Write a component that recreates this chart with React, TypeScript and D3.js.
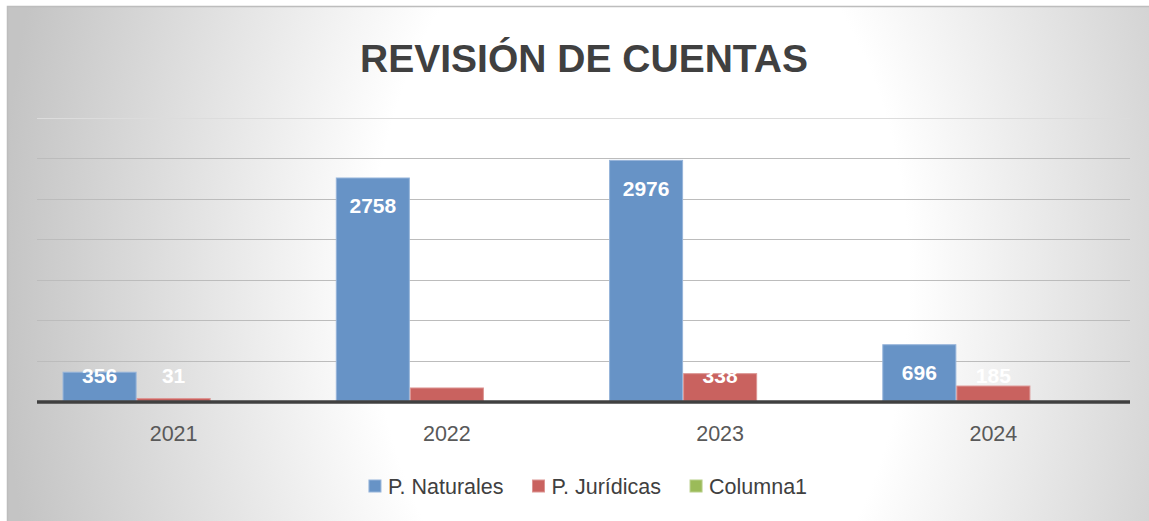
import React, { useRef, useEffect } from 'react';
import * as d3 from 'd3';

const categories = ['2021', '2022', '2023', '2024'];
const seriesNames = ['P. Naturales', 'P. Jurídicas', 'Columna1'];
const naturales = [356, 2758, 2976, 696];
const juridicas = [31, 161, 338, 185];
const columna1: (number | null)[] = [null, null, null, null];
const yTicks = [0, 500, 1000, 1500, 2000, 2500, 3000, 3500];

const colors = ['#6793c6', '#c9625f', '#9bbb59'];
const strokes = ['#96b4da', '#dc9593', '#b8cf8a'];

const W = 1149;
const H = 521;
const font = '"Liberation Sans", Arial, sans-serif';

export default function App() {
  const svgRef = useRef<SVGSVGElement>(null);

  useEffect(() => {
    const svg = d3.select(svgRef.current);
    svg.selectAll('*').remove();

    const series = [naturales, juridicas, columna1];
    const val = (si: number, c: string) => series[si][categories.indexOf(c)];

    // background gradient
    const defs = svg.append('defs');
    const grad = defs
      .append('radialGradient')
      .attr('id', 'bg')
      .attr('gradientUnits', 'userSpaceOnUse')
      .attr('cx', 640)
      .attr('cy', 280)
      .attr('r', 640)
      .attr('gradientTransform', 'translate(640,280) scale(1,1.5) translate(-640,-280)');
    grad.append('stop').attr('offset', '0').attr('stop-color', '#ffffff');
    grad.append('stop').attr('offset', '0.42').attr('stop-color', '#ffffff');
    grad.append('stop').attr('offset', '1').attr('stop-color', '#c4c4c4');

    svg
      .append('rect')
      .attr('x', 7.5)
      .attr('y', 6.5)
      .attr('width', W)
      .attr('height', H)
      .attr('fill', 'url(#bg)')
      .attr('stroke', '#bdbdbd')
      .attr('stroke-width', 1.5);

    // title
    svg
      .append('text')
      .text('REVISIÓN DE CUENTAS')
      .attr('x', 584)
      .attr('y', 72)
      .attr('text-anchor', 'middle')
      .attr('font-family', font)
      .attr('font-weight', 'bold')
      .attr('font-size', '39px')
      .attr('fill', '#404040');

    const x0 = d3.scaleBand().domain(categories).range([37, 1130]).padding(0);
    const gap = x0.bandwidth() * 0.187;
    const x1 = d3
      .scaleBand()
      .domain(seriesNames)
      .range([gap / 2, x0.bandwidth() - gap / 2])
      .padding(0);
    const y = d3.scaleLinear().domain([0, 3500]).range([401, 118]);

    // gridlines
    svg
      .append('g')
      .selectAll('line')
      .data(yTicks.slice(1))
      .enter()
      .append('line')
      .attr('x1', 37)
      .attr('x2', 1130)
      .attr('y1', (d) => Math.round(y(d)) + 0.5)
      .attr('y2', (d) => Math.round(y(d)) + 0.5)
      .attr('stroke', (d) => (d === 3500 ? '#dcdcdc' : '#bcbcbc'))
      .attr('stroke-width', 1.2);

    // bars
    const groups = svg
      .append('g')
      .selectAll('g')
      .data(categories)
      .enter()
      .append('g')
      .attr('transform', (d) => 'translate(' + x0(d) + ',0)');

    seriesNames.forEach((name, si) => {
      groups
        .filter((c) => val(si, c) != null)
        .append('rect')
        .attr('x', x1(name)! + 0.5)
        .attr('width', x1.bandwidth() - 1)
        .attr('y', (c) => y(val(si, c) as number))
        .attr('height', (c) => y(0) - y(val(si, c) as number))
        .attr('fill', colors[si])
        .attr('stroke', strokes[si])
        .attr('stroke-width', 1);
    });

    // labels (inside end, pushed up when the bar is too short)
    seriesNames.forEach((name, si) => {
      groups
        .filter((c) => val(si, c) != null)
        .append('text')
        .text((c) => String(val(si, c)))
        .attr('x', x1(name)! + x1.bandwidth() / 2)
        .attr('y', (c) => Math.min(y(val(si, c) as number) + 28, y(0) - 26))
        .attr('dominant-baseline', 'central')
        .attr('text-anchor', 'middle')
        .attr('font-family', font)
        .attr('font-weight', 'bold')
        .attr('font-size', '21px')
        .attr('fill', '#ffffff');
    });

    // baseline axis
    svg
      .append('line')
      .attr('x1', 37)
      .attr('x2', 1130)
      .attr('y1', y(0) + 1)
      .attr('y2', y(0) + 1)
      .attr('stroke', '#404040')
      .attr('stroke-width', 3.5);

    // category labels
    svg
      .append('g')
      .selectAll('text')
      .data(categories)
      .enter()
      .append('text')
      .text((d) => d)
      .attr('x', (d) => x0(d)! + x0.bandwidth() / 2)
      .attr('y', 441)
      .attr('text-anchor', 'middle')
      .attr('font-family', font)
      .attr('font-size', '21.5px')
      .attr('fill', '#595959');

    // legend
    const legend = svg.append('g');
    let lx = 0;
    seriesNames.forEach((name, i) => {
      const item = legend.append('g').attr('transform', 'translate(' + lx + ',0)');
      item
        .append('rect')
        .attr('x', 0)
        .attr('y', -6)
        .attr('width', 12)
        .attr('height', 12)
        .attr('fill', colors[i])
        .attr('stroke', strokes[i]);
      const t = item
        .append('text')
        .text(name)
        .attr('x', 19)
        .attr('y', 0)
        .attr('dy', '0.35em')
        .attr('font-family', font)
        .attr('font-size', '21.5px')
        .attr('fill', '#404040');
      const w = (t.node() as SVGTextElement).getComputedTextLength();
      lx += 19 + w + 29;
    });
    const total = lx - 29;
    legend.attr('transform', 'translate(' + (588 - total / 2) + ',486)');
  }, []);

  return (
    <svg
      ref={svgRef}
      width={W}
      height={H}
      style={{ position: 'absolute', left: 0, top: 0 }}
    ></svg>
  );
}
